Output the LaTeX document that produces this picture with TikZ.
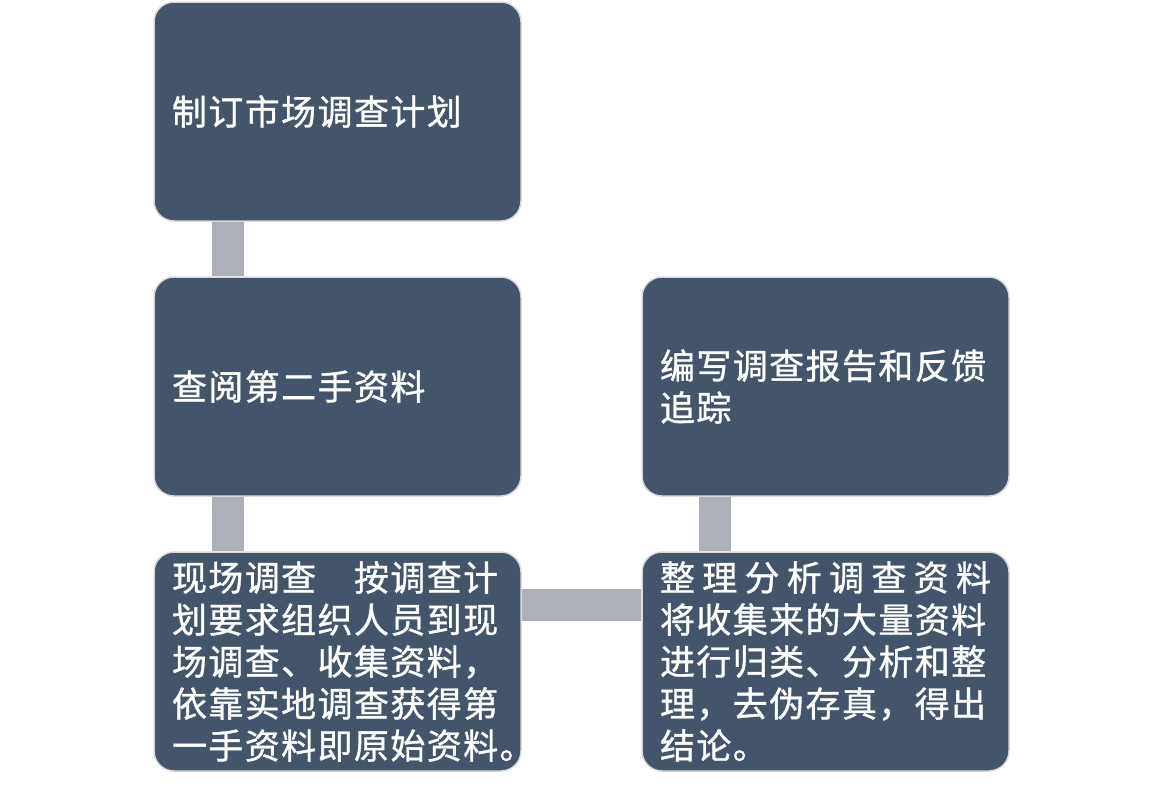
\documentclass[tikz,border=0pt]{standalone}
\usepackage{fontspec}
\newfontfamily\cjk[LetterSpace=4,FakeBold=1]{Noto Sans CJK SC}
\definecolor{boxfill}{HTML}{44546A}
\definecolor{boxline}{HTML}{D9D9D9}
\definecolor{connfill}{HTML}{ADB0B8}
\begin{document}
\begin{tikzpicture}[x=1pt,y=-1pt,
  stepbox/.style={rectangle, rounded corners=20pt, fill=boxfill, draw=boxline, line width=1.5pt,
    minimum width=367pt, minimum height=219pt, text width=331pt, inner xsep=18pt, align=left,
    text=white, font=\cjk\fontsize{35}{42}\selectfont},
  conn/.style={draw=connfill, line width=32pt, line cap=butt}]
\useasboundingbox (0,0) rectangle (1162,790);
\node[stepbox] (b1) at (337.5,111.5) {制订市场调查计划};
\node[stepbox] (b2) at (337.5,386.5) {查阅第二手资料};
\node[stepbox] (b3) at (337.5,661.5) {现场调查　按调查计\\划要求组织人员到现\\场调查、收集资料，\\依靠实地调查获得第\\一手资料即原始资料。};
\node[stepbox] (b4) at (825.5,661.5) {\makebox[331pt][l]{整\hfill 理\hfill 分\hfill 析\hfill 调\hfill 查\hfill 资\hfill 料}\\将收集来的大量资料\\进行归类、分析和整\\理，去伪存真，得出\\结论。};
\node[stepbox] (b5) at (825.5,386.5) {编写调查报告和反馈\\追踪};
\draw[conn] ([xshift=75pt]b1.south west) -- ([xshift=75pt]b2.north west);
\draw[conn] ([xshift=75pt]b2.south west) -- ([xshift=75pt]b3.north west);
\draw[conn] ([yshift=-54pt]b3.north east) -- ([yshift=-54pt]b4.north west);
\draw[conn] ([xshift=74pt]b4.north west) -- ([xshift=74pt]b5.south west);
\end{tikzpicture}
\end{document}
